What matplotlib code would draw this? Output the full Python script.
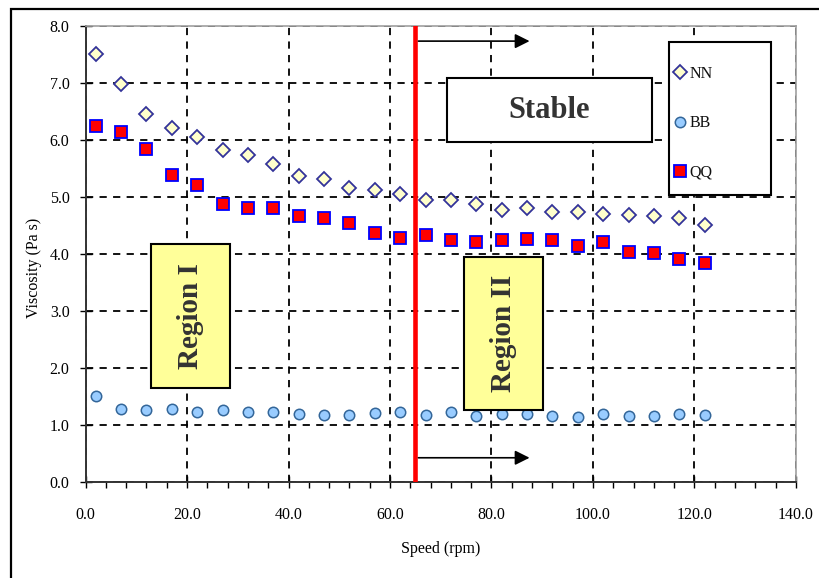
import matplotlib
matplotlib.use("Agg")
import matplotlib.pyplot as plt
from matplotlib.patches import Rectangle

speed = [2, 7, 12, 17, 22, 27, 32, 37, 42, 47, 52, 57, 62,
         67, 72, 77, 82, 87, 92, 97, 102, 107, 112, 117, 122]
nn = [7.50, 6.98, 6.45, 6.20, 6.04, 5.82, 5.73, 5.57, 5.37, 5.31, 5.15, 5.12, 5.04,
      4.94, 4.94, 4.87, 4.77, 4.80, 4.73, 4.73, 4.69, 4.68, 4.66, 4.63, 4.50]
bb = [1.50, 1.28, 1.25, 1.27, 1.22, 1.25, 1.23, 1.22, 1.18, 1.17, 1.17, 1.21, 1.22,
      1.17, 1.22, 1.15, 1.18, 1.18, 1.16, 1.14, 1.18, 1.16, 1.16, 1.19, 1.17]
qq = [6.24, 6.14, 5.84, 5.38, 5.21, 4.87, 4.81, 4.80, 4.66, 4.62, 4.54, 4.36, 4.27,
      4.33, 4.24, 4.21, 4.24, 4.25, 4.24, 4.14, 4.21, 4.03, 4.01, 3.91, 3.83]
series_names = ["NN", "BB", "QQ"]
boundary_speed = 65
xticks = [0, 20, 40, 60, 80, 100, 120, 140]
yticks = [0, 1, 2, 3, 4, 5, 6, 7, 8]

serif = ["Liberation Serif", "DejaVu Serif"]
plt.rcParams["font.family"] = serif
plt.rcParams["text.color"] = "#111111"

fig = plt.figure(figsize=(8.2, 5.78), dpi=100)
ax = fig.add_axes([0.1043, 0.1666, 0.9707 - 0.1043, 0.9555 - 0.1666])

# outer frame (left/top visible)
fig.patches.append(Rectangle((11 / 820, -0.05), 1.2, 1 - 9 / 578 + 0.05,
                             transform=fig.transFigure, fill=False,
                             edgecolor="black", linewidth=1.6))

ax.plot(speed, nn, linestyle="none", marker="D", ms=7, mfc="#FFFFCC",
        mec="#333399", mew=1.3, label=series_names[0], zorder=5)
ax.plot(speed, bb, linestyle="none", marker="o", ms=7.5, mfc="#99CCFF",
        mec="#336699", mew=1.1, label=series_names[1], zorder=5)
ax.plot(speed, qq, linestyle="none", marker="s", ms=8, mfc="#FF0000",
        mec="#0000FF", mew=1.3, label=series_names[2], zorder=5)

ax.set_xlim(0, 140)
ax.set_ylim(0, 8)
ax.set_xticks(xticks)
ax.set_yticks(yticks)
ax.set_xticklabels([f"{v:.1f}" for v in xticks], fontsize=11.5)
ax.set_yticklabels([f"{v:.1f}" for v in yticks], fontsize=11.5)
ax.set_xticks(range(0, 141, 4), minor=True)
ax.tick_params(axis="x", which="major", direction="inout", length=8, width=1, pad=14)
ax.tick_params(axis="x", which="minor", direction="out", length=4, width=1)
ax.tick_params(axis="y", which="major", direction="inout", length=9, width=1, pad=7)

ax.grid(True, which="major", color="black", linestyle=(0, (4, 3.5)), linewidth=1.3)
ax.set_axisbelow(True)

for s in ("top", "right"):
    ax.spines[s].set_color("#A0A0A0")
    ax.spines[s].set_linewidth(1.2)
for s in ("left", "bottom"):
    ax.spines[s].set_color("#333333")
    ax.spines[s].set_linewidth(1.4)

ax.set_xlabel("Speed (rpm)", fontsize=11.5, labelpad=13)
ax.set_ylabel("Viscosity (Pa s)", fontsize=11.5)
ax.yaxis.set_label_coords(-0.061, 0.47)

# boundary line
ax.axvline(boundary_speed, color="red", linewidth=3.3, zorder=6)

# arrows
for yy in (7.73, 0.42):
    ax.annotate("", xy=(87.5, yy), xytext=(boundary_speed + 0.6, yy),
                arrowprops=dict(arrowstyle="-|>", color="black", lw=1.2,
                                mutation_scale=22, shrinkA=0, shrinkB=0),
                zorder=6)

# Stable box
ax.add_patch(Rectangle((71.2, 5.96), 40.4, 1.12, facecolor="white",
                       edgecolor="black", linewidth=1.5, zorder=7))
ax.text(91.4, 6.52, "Stable", fontsize=22, fontweight="bold", color="#333333",
        ha="center", va="center", zorder=8)

# Region boxes
for (x0, y0, w, h, label) in [(12.9, 1.64, 15.6, 2.53, "Region I"),
                              (74.6, 1.26, 15.5, 2.68, "Region II")]:
    ax.add_patch(Rectangle((x0, y0), w, h, facecolor="#FFFF99",
                           edgecolor="black", linewidth=1.5, zorder=7))
    ax.text(x0 + w / 2, y0 + h / 2, label, fontsize=21, fontweight="bold",
            color="#333333", rotation=90, ha="center", va="center", zorder=8)

# legend: separate frame + frameless legend
ax.add_patch(Rectangle((115.0, 5.03), 20.1, 2.68, facecolor="white",
                       edgecolor="black", linewidth=1.5, zorder=8))
leg = ax.legend(loc="upper left", bbox_to_anchor=(116.0, 7.30),
                bbox_transform=ax.transData, borderaxespad=0,
                frameon=False, fontsize=11.5, labelspacing=2.1, borderpad=0,
                handlelength=0.7, handletextpad=0.25, numpoints=1)
leg.set_zorder(9)

fig.savefig("out.png", dpi=100)
